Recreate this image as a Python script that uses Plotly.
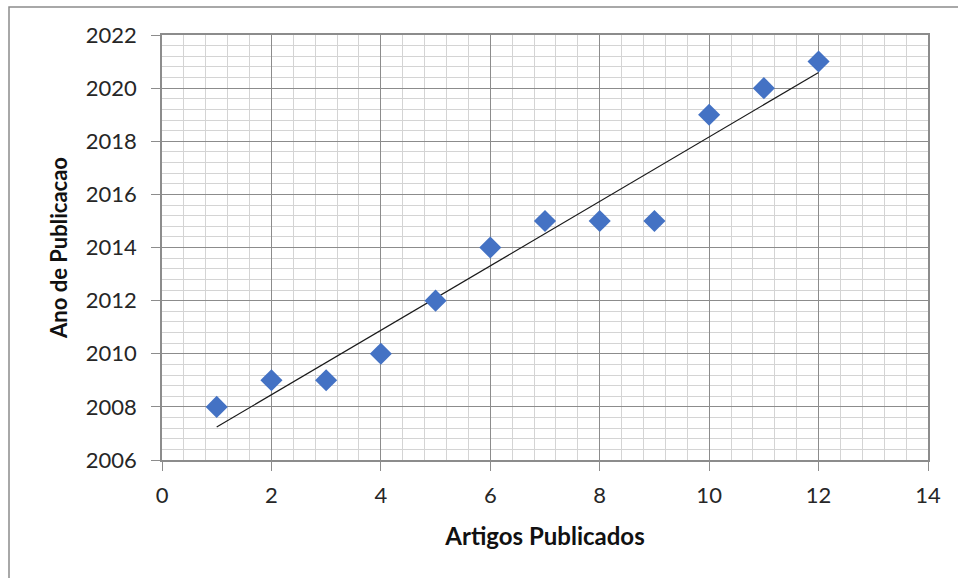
import numpy as np
import plotly.graph_objects as go

artigos = [1, 2, 3, 4, 5, 6, 7, 8, 9, 10, 11, 12]
anos = [2008, 2009, 2009, 2010, 2012, 2014, 2015, 2015, 2015, 2019, 2020, 2021]
x_ticks = [0, 2, 4, 6, 8, 10, 12, 14]
y_ticks = [2006, 2008, 2010, 2012, 2014, 2016, 2018, 2020, 2022]

slope, intercept = np.polyfit(artigos, anos, 1)
trend_x = [min(artigos), max(artigos)]
trend_y = [slope * v + intercept for v in trend_x]

fig = go.Figure()
fig.add_trace(go.Scatter(x=trend_x, y=trend_y, mode="lines",
                         line=dict(color="#1a1a1a", width=1.2), showlegend=False, hoverinfo="skip"))
fig.add_trace(go.Scatter(x=artigos, y=anos, mode="markers",
                         marker=dict(symbol="diamond", size=17, color="#4472C4",
                                     line=dict(width=0)), showlegend=False))

font_family = "Lato, Calibri, Arial, sans-serif"
axis_common = dict(
    showline=True, linecolor="#8c8c8c", linewidth=1.5, mirror=True,
    ticks="outside", ticklen=9, tickcolor="#8c8c8c", tickwidth=1.2,
    showgrid=True, gridcolor="#8c8c8c", gridwidth=1,
    zeroline=False, automargin=False,
    tickfont=dict(family=font_family, size=22, color="#262626"),
    minor=dict(showgrid=True, gridcolor="#d4d4d4", gridwidth=1, dtick=0.4, ticks=""),
)

L, R, T, B = 162, 30, 35, 118
W, H = 958, 578
pw, ph = W - L - R, H - T - B

fig.update_layout(
    width=W, height=H,
    margin=dict(l=L, r=R, t=T, b=B),
    paper_bgcolor="white", plot_bgcolor="white",
    xaxis=dict(range=[0, 14], tickvals=x_ticks, ticklabelstandoff=6,
               title=dict(text="<b>Artigos Publicados</b>", standoff=21,
                          font=dict(family=font_family, size=24, color="#111111")),
               **axis_common),
    yaxis=dict(range=[2006, 2022], tickvals=y_ticks, ticklabelstandoff=10,
               title=dict(text="<b>Ano de Publicacao</b>", standoff=12,
                          font=dict(family=font_family, size=22, color="#111111")),
               **axis_common),
    shapes=[dict(type="rect", xref="paper", yref="paper",
                 x0=(9 - L) / pw, x1=1.2, y0=-2, y1=1 + (T - 7) / ph,
                 line=dict(color="#8c8c8c", width=1.5), layer="below")],
)

fig.write_html("out.html", config={"displayModeBar": False},
               post_script="document.body.style.margin='0';")
